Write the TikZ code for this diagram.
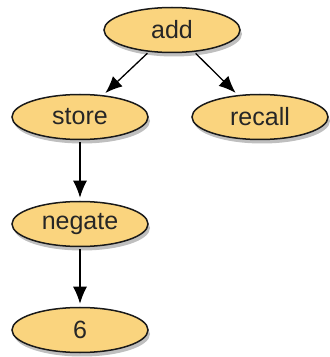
\documentclass[tikz,border=0pt]{standalone}
\usepackage{fontspec}
\setmainfont{Liberation Sans}
\usepackage{tikz}
\usetikzlibrary{shapes.geometric}
\usetikzlibrary{shadows}
\usetikzlibrary{arrows.meta}
\usetikzlibrary{positioning}
\definecolor{opfill}{RGB}{250,212,126}

\begin{document}
\begin{tikzpicture}[x=1pt, y=1pt,
        op/.style={ellipse, draw=black!90, fill=opfill, line width=1.5pt, minimum width=136pt, minimum height=45pt, inner sep=0pt,
                   font=\fontsize{25}{30}\selectfont, text=black!85,
                   drop shadow={shadow xshift=2pt, shadow yshift=-4pt, fill=black, opacity=0.25}},
        link/.style={-{Latex[length=17pt, width=14pt]}, line width=1.3pt, shorten >=3pt, shorten <=2pt}
      ]
        \useasboundingbox (0,0) rectangle (330,357);

        \node[op]  (add)                                              at (172,327) {add};
        \node[op]  (store)                                            at (80,240)  {store};
        \node[op]  (recall)  [right of=store, node distance=180pt]                 {recall};
        \node[op]  (negate)  [below of=store, node distance=107pt]                 {negate};
        \node[op]  (six)     [below of=negate, node distance=106pt]                {6};

        \draw[link]  (add) -- (store);
        \draw[link]  (add) -- (recall);
        \draw[link]  (store) -- (negate);
        \draw[link]  (negate) -- (six);
      \end{tikzpicture}
\end{document}
